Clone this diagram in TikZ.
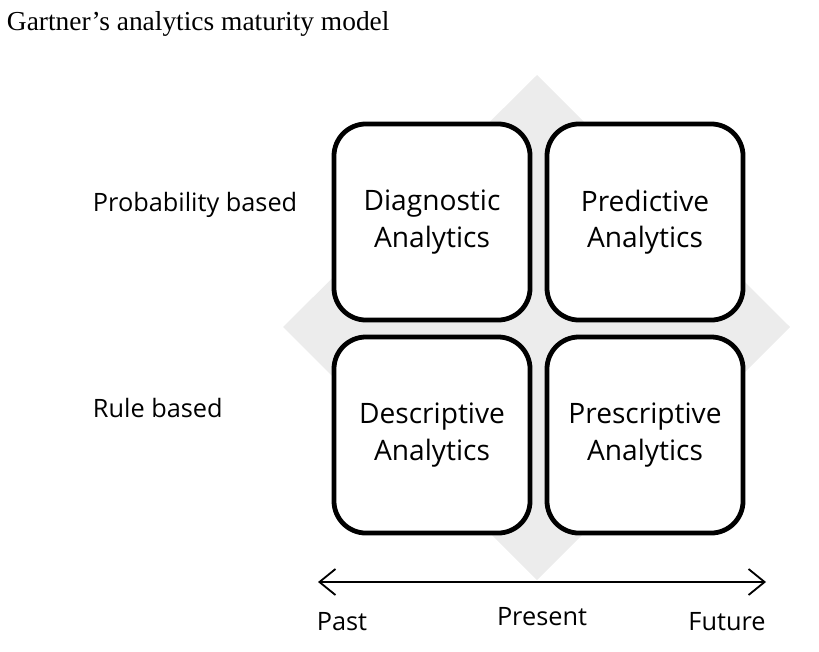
\documentclass[tikz,border=0pt]{standalone}
\usepackage{fontspec}
\setmainfont{Liberation Serif}
\newfontfamily\boxfont{Open Sans}
\usetikzlibrary{arrows.meta}

\tikzset{
	quadrant/.style={draw=black, line width=3.4pt, rounded corners=0.8cm, fill=white,
		minimum width=4.9cm, minimum height=4.9cm, align=center,
		font=\boxfont\fontsize{20}{26}\selectfont},
	sidelabel/.style={anchor=west, font=\boxfont\fontsize{18}{22}\selectfont},
	timelabel/.style={font=\boxfont\fontsize{18}{22}\selectfont}
}

\begin{document}
\begin{tikzpicture}[x=0.025cm, y=-0.025cm]
		\useasboundingbox (0,0) rectangle (819,651);
		%title
		\node (title) at(2,30) [anchor=base west, font=\fontsize{19.5}{23}\selectfont]{Gartner's analytics maturity model};
		%diamond behind the boxes
		\fill[gray!15] (537,75) -- (790,327) -- (537,580) -- (283,327) -- cycle;
		%boxes
		\node (diag)  at(432,222) [quadrant]{Diagnostic\\Analytics};
		\node (pred)  at(645,222) [quadrant]{Predictive\\Analytics};
		\node (desc)  at(432,435) [quadrant]{Descriptive\\Analytics};
		\node (presc) at(645,435) [quadrant]{Prescriptive\\Analytics};
		%row labels
		\node (prob) at(88,205) [sidelabel]{Probability based};
		\node (rule) at(88,408) [sidelabel]{Rule based};
		%time axis
		\coordinate (axisL) at(318,582);
		\coordinate (axisR) at(766,582);
		\draw [line width=1.3pt, {Straight Barb[length=0.4cm, width=0.65cm]}-{Straight Barb[length=0.4cm, width=0.65cm]}] (axisL) -- (axisR);
		\node (past)    at(342,622) [timelabel]{Past};
		\node (present) at(542,617) [timelabel]{Present};
		\node (future)  at(727,622) [timelabel]{Future};
	\end{tikzpicture}
\end{document}
